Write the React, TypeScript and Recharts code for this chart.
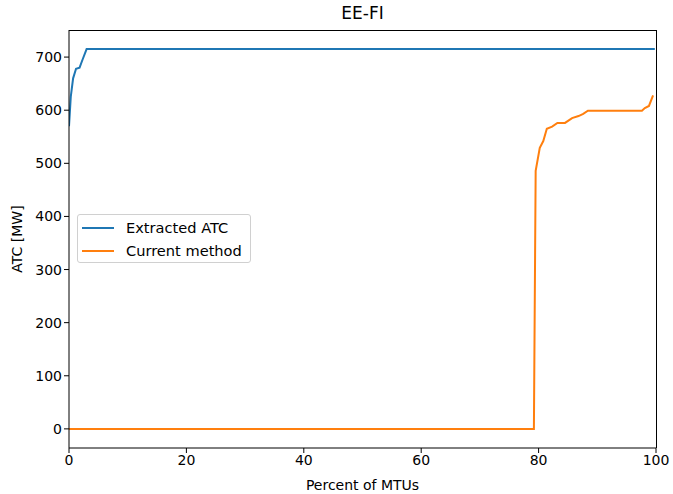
import React from "react";
import { LineChart, Line, XAxis, YAxis } from "recharts";

const extractedX = [0, 0.3, 0.7, 1.2, 1.8, 2.3, 3.0, 99.8];
const extractedY = [570, 625, 660, 678, 680, 695, 715, 715];

const currentX = [0, 79.2, 79.5, 80.2, 80.8, 81.4, 82.3, 83.2, 84.5, 85.7, 86.8, 87.6, 88.4, 97.6, 98.1, 98.8, 99.5];
const currentY = [0, 0, 486, 529, 542, 565, 569, 576, 576, 585, 589, 593, 599, 599, 604, 608, 628];

const xTicks = [0, 20, 40, 60, 80, 100];
const yTicks = [0, 100, 200, 300, 400, 500, 600, 700];

const seriesNames = ["Extracted ATC", "Current method"];
const seriesColors = ["#1f77b4", "#ff7f0e"];

const extracted = extractedX.map((x, i) => ({ x, y: extractedY[i] }));
const current = currentX.map((x, i) => ({ x, y: currentY[i] }));

const W = 673;
const H = 494;
const L = 69;
const R = 656;
const T = 30;
const B = 448;
const FONT = "DejaVu Sans, sans-serif";

export default function App() {
  return (
    <div style={{ position: "absolute", left: 0, top: 0, width: W, height: H, background: "#fff", fontFamily: FONT }}>
      <LineChart width={W} height={H} margin={{ top: T, right: W - R, bottom: 0, left: 0 }}>
        <XAxis
          type="number"
          dataKey="x"
          domain={[0, 100]}
          ticks={xTicks}
          allowDataOverflow
          height={H - B}
          tickSize={5}
          tick={{ fontSize: 14, fill: "#000", fontFamily: FONT }}
          stroke="#000"
          tickLine={{ stroke: "#000" }}
          axisLine={{ stroke: "#000" }}
        />
        <YAxis
          type="number"
          dataKey="y"
          domain={[-36, 751]}
          ticks={yTicks}
          allowDataOverflow
          width={L}
          tickSize={5}
          tick={{ fontSize: 14, fill: "#000", fontFamily: FONT }}
          stroke="#000"
          tickLine={{ stroke: "#000" }}
          axisLine={{ stroke: "#000" }}
        />
        <Line data={extracted} dataKey="y" name={seriesNames[0]} stroke={seriesColors[0]} strokeWidth={2} dot={false} isAnimationActive={false} type="linear" />
        <Line data={current} dataKey="y" name={seriesNames[1]} stroke={seriesColors[1]} strokeWidth={2} dot={false} isAnimationActive={false} type="linear" />
      </LineChart>
      <div style={{ position: "absolute", left: L, top: T, width: R - L + 1, height: B - T, border: "1px solid #000", borderLeft: "none", borderBottom: "none", boxSizing: "border-box", pointerEvents: "none" }} />
      <div
        style={{
          position: "absolute",
          left: 77,
          top: 214,
          width: 174,
          height: 49,
          boxSizing: "border-box",
          border: "1px solid #d0d0d0",
          borderRadius: 3,
          background: "rgba(255,255,255,0.8)",
          padding: "1px 0 0 4px",
          fontSize: 14.6,
          color: "#000",
          lineHeight: "23px",
          whiteSpace: "nowrap",
        }}
      >
        {seriesNames.map((label, i) => (
          <div key={label} style={{ display: "flex", alignItems: "center" }}>
            <span style={{ display: "inline-block", width: 32, height: 2, background: seriesColors[i], marginRight: 12 }} />
            <span>{label}</span>
          </div>
        ))}
      </div>
      <div style={{ position: "absolute", left: L, width: R - L, top: 3, textAlign: "center", fontSize: 17, color: "#000" }}>EE-FI</div>
      <div style={{ position: "absolute", left: L, width: R - L, top: 477, textAlign: "center", fontSize: 14, color: "#000" }}>Percent of MTUs</div>
      <div
        style={{
          position: "absolute",
          left: 17,
          top: (T + B) / 2,
          transform: "translate(-50%, -50%) rotate(-90deg)",
          fontSize: 14,
          color: "#000",
          whiteSpace: "nowrap",
        }}
      >
        ATC [MW]
      </div>
    </div>
  );
}
